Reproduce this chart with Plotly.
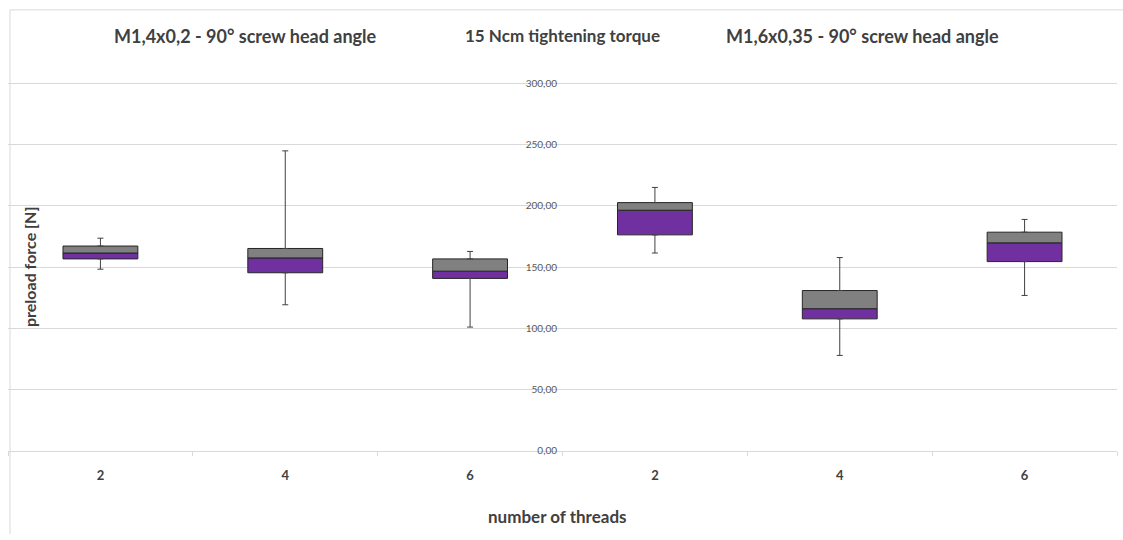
import plotly.graph_objects as go

# ---- data ----
groups = ["M1,4x0,2", "M1,4x0,2", "M1,4x0,2", "M1,6x0,35", "M1,6x0,35", "M1,6x0,35"]
threads = ["2", "4", "6", "2", "4", "6"]
whisker_min = [148.2, 119.2, 101.0, 161.4, 77.9, 126.8]
q1 = [156.6, 145.3, 140.7, 176.2, 107.7, 154.4]
median = [161.4, 157.4, 146.6, 196.3, 116.0, 169.7]
q3 = [167.1, 165.1, 156.6, 202.5, 130.8, 178.4]
whisker_max = [173.5, 244.7, 162.7, 214.9, 157.7, 188.8]

y_ticks = [0, 50, 100, 150, 200, 250, 300]
titles = ["M1,4x0,2 - 90° screw head angle", "15 Ncm tightening torque",
          "M1,6x0,35 - 90° screw head angle"]

cats = [g + " / " + t for g, t in zip(groups, threads)]

FONT = "Lato"
TXT = "#404040"
GRID = "#D9D9D9"
W, H = 1123, 540

lower = [m - a for m, a in zip(median, q1)]
upper = [b - m for b, m in zip(q3, median)]

fig = go.Figure()
fig.add_trace(go.Bar(
    x=cats, y=lower, base=q1, width=0.405,
    marker=dict(color="#7030A0", line=dict(color="#262626", width=1)),
    hoverinfo="skip", showlegend=False))
fig.add_trace(go.Bar(
    x=cats, y=upper, base=median, width=0.405,
    marker=dict(color="#808080", line=dict(color="#262626", width=1)),
    hoverinfo="skip", showlegend=False))
# whiskers
fig.add_trace(go.Scatter(
    x=cats, y=q3, mode="markers", marker=dict(size=1, opacity=0),
    error_y=dict(type="data", symmetric=False,
                 array=[b - a for a, b in zip(q3, whisker_max)],
                 arrayminus=[0] * len(q3),
                 color="#404040", thickness=1, width=3),
    hoverinfo="skip", showlegend=False))
fig.add_trace(go.Scatter(
    x=cats, y=q1, mode="markers", marker=dict(size=1, opacity=0),
    error_y=dict(type="data", symmetric=False,
                 array=[0] * len(q1),
                 arrayminus=[a - b for a, b in zip(q1, whisker_min)],
                 color="#404040", thickness=1, width=3),
    hoverinfo="skip", showlegend=False))

x0, x1 = 8 / W, 1117 / W
zero_px, top300_px = 456.0, 84.0
unit = (zero_px - top300_px) / 300.0
YMAX = 320
top_px = zero_px - unit * YMAX
y_bot, y_top = (H - zero_px) / H, (H - top_px) / H


def ann(text, x, y, size, angle=0):
    return dict(text="<b>" + text + "</b>", x=x / W, y=(H - y) / H,
                xref="paper", yref="paper", showarrow=False,
                xanchor="center", yanchor="middle", textangle=angle,
                font=dict(family=FONT, size=size, color=TXT))


fig.update_layout(
    width=W, height=H, autosize=False,
    margin=dict(l=0, r=0, t=0, b=0, pad=0),
    paper_bgcolor="white", plot_bgcolor="white",
    separators=",.",
    barmode="overlay",
    font=dict(family=FONT, color=TXT),
    xaxis=dict(
        domain=[x0, x1], type="category",
        categoryorder="array", categoryarray=cats,
        tickvals=cats, ticktext=threads,
        tickson="boundaries", ticks="outside", ticklen=4,
        tickcolor=GRID, showline=True, linecolor=GRID, linewidth=1,
        showgrid=False, anchor="y",
        ticklabelstandoff=12,
        tickfont=dict(family=FONT, size=13, color=TXT, weight="bold"),
        range=[-0.5, 5.5],
    ),
    yaxis=dict(
        domain=[y_bot, y_top], range=[0, YMAX],
        anchor="free", position=563 / W, side="left",
        tickvals=y_ticks, tickformat=".2f",
        showgrid=True, gridcolor=GRID, gridwidth=1,
        zeroline=False, showline=False, ticks="",
        ticklabelstandoff=6,
        tickfont=dict(family=FONT, size=10, color="#595959"),
    ),
    shapes=[
        dict(type="line", xref="paper", yref="paper", x0=10 / W, x1=1,
             y0=(H - 10) / H, y1=(H - 10) / H,
             line=dict(color=GRID, width=1)),
        dict(type="line", xref="paper", yref="paper", x0=10 / W, x1=10 / W,
             y0=0, y1=(H - 10) / H, line=dict(color=GRID, width=1)),
    ],
    annotations=[
        ann(titles[0], 245, 36, 18),
        ann(titles[1], 562, 36, 17),
        ann(titles[2], 862, 36, 18),
        ann("preload force [N]", 29, 270, 16, -90),
        ann("number of threads", 557, 522, 17),
    ],
)

post = (
    "var gd=document.getElementById('{plot_id}');"
    "gd.style.position='fixed';gd.style.left='0px';gd.style.top='0px';"
    "document.body.style.margin='0';document.body.style.padding='0';"
    "document.documentElement.style.overflow='hidden';"
    "document.body.style.overflow='hidden';"
)

fig.write_html("out.html", post_script=post,
               config={"displayModeBar": False})
